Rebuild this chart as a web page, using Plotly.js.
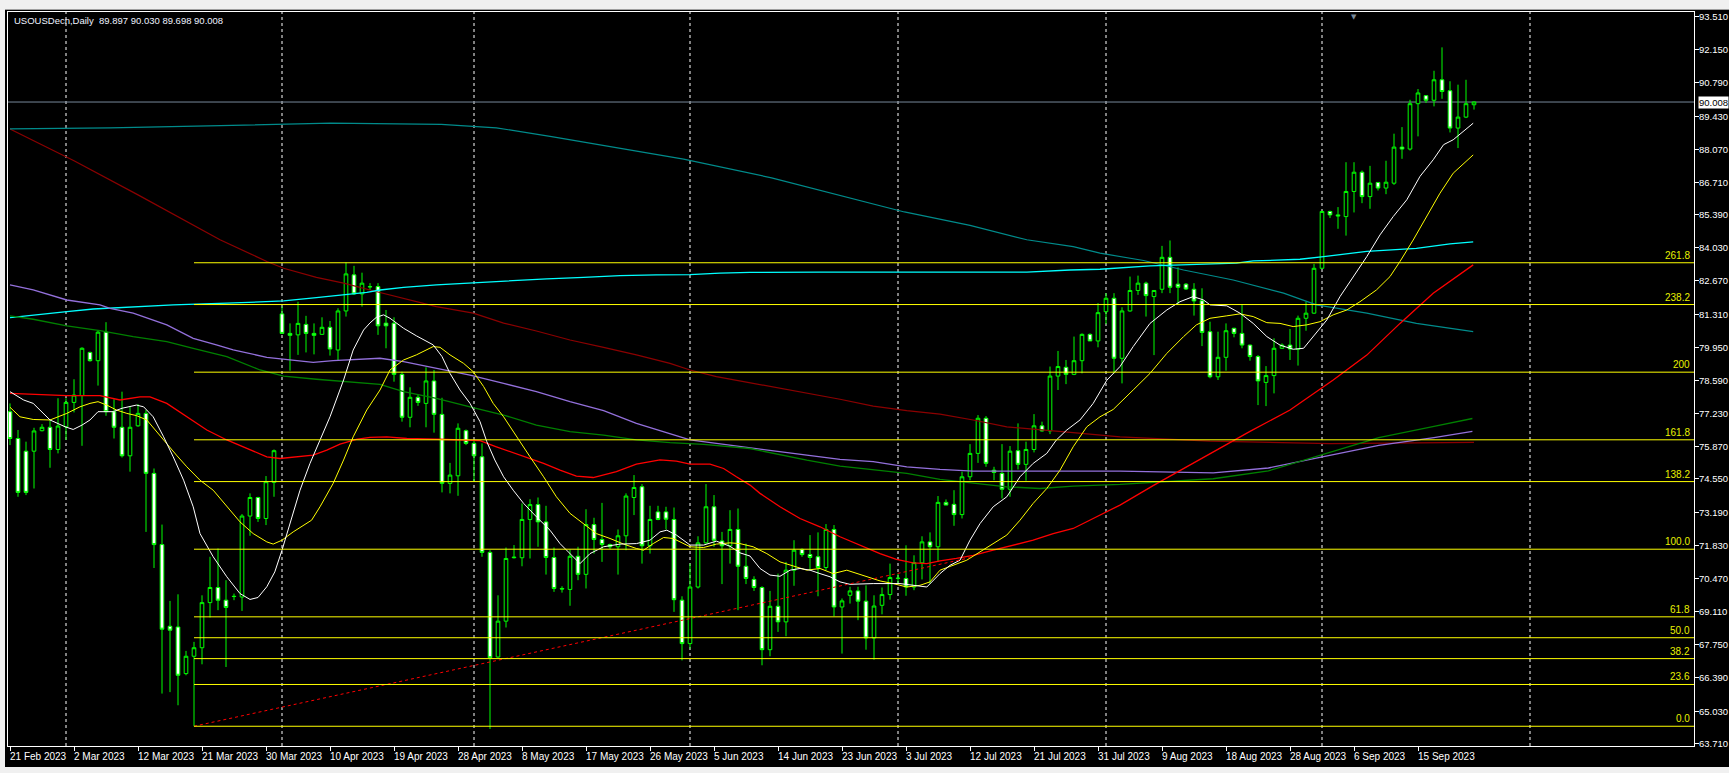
<!DOCTYPE html>
<html><head><meta charset="utf-8">
<script src="https://cdn.plot.ly/plotly-3.0.1.min.js"></script>
<style>html,body{margin:0;padding:0;background:#000;overflow:hidden}#chart{width:1729px;height:773px}</style>
</head><body><div id="chart"></div>
<script>
// ---- Symbol / header ----
const symbolTitle = 'USOUSDecn,Daily  89.897 90.030 89.698 90.008';

// ---- Daily OHLC (bar index 0 = 21 Feb 2023) ----
const openP = [77.31,76.21,75.69,75.69,76.53,76.67,75.76,76.69,77.69,77.97,79.74,79.40,80.57,77.31,76.67,75.50,76.73,77.24,74.78,71.86,68.51,68.48,66.57,67.28,67.63,69.48,70.10,69.58,69.74,69.71,73.03,73.79,72.93,74.41,81.32,80.52,80.46,80.89,80.52,80.48,80.77,79.84,81.44,82.92,82.14,82.44,82.44,80.94,80.94,78.84,77.08,77.90,77.65,78.57,77.20,74.37,74.68,76.53,76.01,75.46,71.54,67.25,68.72,71.32,71.32,72.89,73.50,72.79,71.33,70.06,70.02,71.38,70.64,72.68,72.07,71.86,71.77,72.22,73.79,74.23,71.81,73.20,73.20,72.89,69.58,67.80,70.12,71.93,73.41,72.01,71.81,72.48,70.97,70.43,70.10,67.55,69.33,68.69,70.81,71.66,71.45,71.36,70.92,72.48,69.30,69.78,69.96,69.54,68.03,69.37,69.81,70.47,70.47,70.12,71.11,71.97,71.77,73.59,73.51,73.09,74.64,75.60,77.04,74.91,74.78,74.13,75.71,75.15,75.76,76.73,76.52,78.77,79.13,78.84,79.40,80.48,80.21,81.41,81.96,79.50,81.44,82.28,82.58,82.03,82.33,83.64,82.54,82.54,82.33,81.86,80.59,78.74,79.54,80.73,80.52,80.04,79.57,78.51,78.79,79.91,80.04,79.87,81.14,81.35,83.19,85.52,85.38,85.31,86.34,87.13,86.13,86.71,86.48,86.68,88.16,88.08,89.94,90.27,90.08,90.92,90.47,88.94,89.39,89.897];
const highP = [77.65,76.56,76.08,76.65,76.80,76.99,77.86,77.86,78.64,79.95,79.77,80.66,80.98,77.82,78.13,77.51,77.62,77.38,74.98,72.68,69.55,69.82,67.50,67.87,69.78,71.36,71.70,70.40,69.85,73.11,73.96,73.82,74.67,75.76,81.62,80.93,81.82,81.24,80.93,81.18,81.03,81.55,83.43,83.29,83.01,82.58,82.58,81.48,81.18,78.95,78.31,77.99,79.13,79.02,77.88,75.21,76.83,76.58,76.15,76.01,71.63,69.78,71.74,71.84,73.55,73.72,73.79,73.45,71.74,70.15,71.66,71.77,73.31,72.96,73.57,71.90,72.48,73.96,74.71,74.34,73.45,73.45,73.41,73.38,69.74,71.08,72.20,74.34,73.89,72.38,73.27,73.34,71.90,70.56,70.15,69.96,70.67,71.15,72.04,71.70,72.25,72.36,72.70,72.66,69.65,70.13,70.13,70.19,69.78,70.10,71.08,70.67,71.83,71.42,72.20,72.36,73.85,73.71,74.09,74.85,75.98,77.17,77.13,75.05,75.98,75.90,76.83,76.08,77.21,76.90,79.16,79.80,79.43,80.39,80.52,80.52,81.76,82.17,82.17,81.59,82.85,82.89,82.64,82.30,84.11,84.33,83.23,82.58,82.58,82.37,81.00,80.59,80.93,80.75,81.69,80.06,79.63,79.18,80.32,80.11,80.70,81.25,81.82,83.37,85.55,85.55,85.70,87.54,87.54,87.20,87.39,86.72,87.60,88.71,88.98,90.10,90.54,90.29,91.29,92.25,90.86,90.72,90.92,90.030];
const lowP = [75.94,73.82,73.89,74.16,76.50,75.01,75.60,76.15,77.28,75.91,79.36,78.38,77.14,76.21,75.43,74.85,76.69,72.38,70.90,65.75,65.81,65.27,66.50,64.41,66.95,68.87,69.17,66.84,69.58,69.14,72.22,72.79,72.66,73.82,80.50,78.99,79.64,79.74,79.66,80.46,79.61,79.40,81.21,82.10,81.62,82.30,80.46,79.91,78.54,76.90,76.67,77.55,76.67,76.45,74.00,73.96,73.86,75.94,74.44,71.36,64.30,67.22,68.46,71.29,70.97,71.29,71.77,70.63,69.92,69.89,69.35,70.40,70.06,71.49,71.15,71.67,70.63,71.63,73.07,71.08,71.49,72.86,72.48,69.10,67.11,67.59,70.06,71.90,71.77,70.24,71.08,69.17,70.24,69.96,66.91,67.28,68.28,68.10,70.17,71.36,70.81,69.74,70.81,68.92,67.39,69.44,68.76,67.55,67.14,69.00,69.60,70.26,69.76,69.99,70.43,70.26,71.15,73.48,72.63,72.93,74.50,75.21,75.05,74.50,73.75,73.82,74.94,74.48,75.64,76.49,76.39,78.20,78.44,78.81,78.88,80.21,79.95,80.90,78.88,78.47,81.41,82.10,81.21,79.63,82.17,82.17,81.73,82.30,81.25,80.00,78.68,78.61,78.99,80.36,79.91,79.40,77.58,77.54,78.06,79.88,79.43,79.20,80.63,81.32,83.17,85.25,84.81,84.53,85.48,85.86,85.63,86.38,86.23,86.61,87.68,88.02,88.60,89.97,89.83,90.14,88.76,88.12,89.35,89.698];
const closeP = [76.21,74.00,74.00,76.52,76.67,75.76,76.72,77.69,77.99,79.91,79.40,80.57,77.31,76.67,75.50,76.67,77.24,74.78,71.86,68.39,68.35,66.50,67.28,67.63,69.48,70.10,69.58,69.28,69.73,73.03,73.79,72.93,74.44,75.71,80.52,80.44,80.93,80.52,80.44,80.77,79.88,81.44,82.96,82.14,82.58,82.43,80.83,80.83,78.84,77.08,77.90,77.69,78.57,77.20,74.37,74.71,76.63,76.01,75.50,71.54,67.22,68.72,71.29,71.34,72.89,73.50,72.79,71.33,70.06,70.04,71.38,70.64,72.68,72.07,71.86,71.77,72.22,73.85,74.20,71.81,72.89,72.89,72.90,69.60,67.80,70.12,71.93,73.41,72.04,71.81,72.48,70.97,70.47,70.10,67.55,69.33,68.69,70.81,71.63,71.45,71.33,70.92,72.48,69.30,69.55,69.96,69.54,68.03,69.34,69.81,70.51,70.48,70.12,71.12,71.97,71.77,73.59,73.48,73.09,74.64,75.60,77.04,75.19,74.82,74.13,75.69,75.15,75.76,76.73,76.52,78.77,79.16,78.84,79.40,80.48,80.21,81.37,81.96,79.50,81.44,82.28,82.58,82.07,82.28,83.64,82.41,82.41,82.34,81.85,80.56,78.74,79.54,80.63,80.52,80.04,79.57,78.57,78.79,79.91,80.04,79.88,81.14,81.35,83.19,85.52,85.38,85.34,86.34,87.13,86.13,86.68,86.48,86.72,88.16,88.08,89.94,90.38,90.08,90.92,90.44,88.94,89.39,89.94,90.008];

// ---- X-axis date labels (one every 8 bars) ----
const dateLabels = ['21 Feb 2023','2 Mar 2023','12 Mar 2023','21 Mar 2023','30 Mar 2023','10 Apr 2023','19 Apr 2023','28 Apr 2023','8 May 2023','17 May 2023','26 May 2023','5 Jun 2023','14 Jun 2023','23 Jun 2023','3 Jul 2023','12 Jul 2023','21 Jul 2023','31 Jul 2023','9 Aug 2023','18 Aug 2023','28 Aug 2023','6 Sep 2023','15 Sep 2023'];
const dateLabelIdx = [0,8,16,24,32,40,48,56,64,72,80,88,96,104,112,120,128,136,144,152,160,168,176];
// first bar of each month (vertical grid)
const monthStartIdx = [7,34,58,85,111,137,164,190];

// ---- Price axis labels ----
const priceTicks = [93.510,92.150,90.790,89.430,88.070,86.710,85.390,84.030,82.670,81.310,79.950,78.590,77.230,75.870,74.550,73.190,71.830,70.470,69.110,67.750,66.390,65.030,63.710];

// ---- Fibonacci retracement/extension ----
const fibLow = 64.41, fibHigh = 71.67, fibStartIdx = 23;
const fibLevels = [0.0,23.6,38.2,50.0,61.8,100.0,138.2,161.8,200,238.2,261.8];
const fibLabels = ['0.0','23.6','38.2','50.0','61.8','100.0','138.2','161.8','200','238.2','261.8'];

// ---- Trend line (red dotted) ----
const trendX = [23,120];
const trendY = [64.41,71.32];

// ---- Moving averages ----
const maWhiteX = [0,1.7,2.9,5,6.9,7.9,9,10,11,12.9,14,15.8,16.7,17.9,19.2,20.4,21.7,22.9,23.75,25.4,27.1,28.75,30,31,32.1,33.1,34,35,36.25,37.5,38.75,40,41.7,42.9,44.2,45,45.8,46.7,47.5,49.2,50.8,52.9,54,55,56.25,57.5,58.75,59.6,60.6,61.7,62.9,64.2,65.8,67.5,68.75,70,71.25,72.5,74.2,76.25,78.3,80,81.25,82.1,83.3,85,86.7,88.3,90,91.25,92.5,93.75,95,96.25,97.5,98.75,100,101.25,102.5,103.75,105,107.9,111.25,114.6,116.25,117.5,118.75,120,121.25,122.9,124.6,126.25,127.9,129.6,130.8,132.1,133.75,135.4,137.1,138.75,140.4,142.5,144.6,146.25,147.9,149.2,150,152.1,153.75,155.4,157.1,158.75,160.4,161.7,162.9,164.6,166.25,167.9,169.6,171.25,172.9,174.6,176.25,177.9,179.2,180.4,181.7,182.9];
const maWhiteY = [78.13,77.79,77.65,76.97,76.69,76.58,76.76,76.97,77.31,77.31,77.45,77.58,77.51,77.10,76.28,75.46,74.50,73.41,72.31,71.36,70.54,69.85,69.61,69.69,70.13,70.74,71.63,72.72,74.09,75.19,76.15,77.10,78.61,79.84,80.66,80.95,81.18,81.28,81.14,80.73,80.42,80.05,79.57,78.88,78.20,77.65,76.90,76.08,75.33,74.64,74.09,73.55,73.00,72.45,71.90,71.49,71.08,71.49,71.77,71.88,71.90,72.04,72.38,72.45,72.25,71.84,71.84,72.00,71.79,71.52,71.39,70.88,70.61,70.56,70.81,70.88,70.81,70.67,70.54,70.33,70.23,70.26,70.26,70.12,70.67,71.01,71.22,72.04,72.72,73.41,73.82,74.64,75.19,75.60,76.15,76.56,76.97,77.65,78.60,79.16,79.98,80.93,81.48,81.82,82.03,81.89,81.69,81.65,81.35,80.93,80.39,80.04,79.87,79.91,80.39,81.07,82.03,82.85,83.67,84.56,85.31,86.00,86.96,87.64,88.26,88.46,88.80,89.14];

const maYellowX = [0,1.25,2.9,5,7.1,8.75,10,11,12.1,13.3,14.6,15.8,17.1,18.3,19.6,20.8,22.1,23.75,25.4,26.25,27.1,28.75,30.4,32.1,32.9,34,35.4,37.7,38.75,40.4,41.7,42.9,44.6,46.25,47.5,49.2,50.8,52.9,53.75,55,56.7,57.9,59.2,60.4,61.7,63.3,65,66.7,68.3,70,71.7,73.3,75,76.7,78.3,79.2,80.4,81.7,82.9,85,86.7,88.3,90,91.25,92.9,94.6,96.25,97.9,99.6,101.25,102.9,104.6,107.1,108.75,110.4,112.1,113.75,115,116.25,117.9,119.6,121.25,122.9,124.6,126.25,127.9,129.6,131.25,132.9,134.6,136.25,137.9,140.4,142.5,144.6,146.7,148.3,150,152.1,153.75,155.4,157.1,158.75,160.4,162.1,163.75,165.4,167.1,168.75,170.8,172.5,173.75,175.4,177.1,178.75,180.4,182.9];
const maYellowY = [77.49,77.10,76.99,76.97,77.24,77.51,77.65,77.72,77.58,77.38,77.24,77.15,76.97,76.49,76.01,75.53,75.05,74.50,74.09,73.75,73.41,72.79,72.31,71.97,71.88,72.04,72.38,72.86,73.41,74.37,75.33,76.28,77.38,78.20,79.02,79.43,79.64,79.98,79.95,79.64,79.29,78.95,78.34,77.65,77.10,76.28,75.46,74.64,73.82,73.14,72.72,72.31,72.11,71.88,71.70,71.63,71.90,72.15,72.11,71.77,71.74,71.88,71.93,71.90,71.77,71.49,71.15,70.97,70.81,70.88,70.67,70.81,70.54,70.37,70.26,70.12,70.19,70.33,70.81,71.01,71.22,71.56,71.90,72.25,72.86,73.55,74.16,74.91,75.87,76.69,77.10,77.40,78.20,78.88,79.70,80.39,80.87,81.14,81.24,81.32,81.21,80.96,80.93,80.80,80.87,81.00,81.28,81.48,81.82,82.30,82.85,83.47,84.35,85.31,86.27,87.09,87.84];

const maRedX = [0,3.3,7.1,11.25,13.75,16.25,17.5,19.6,22.1,24.6,27.1,29.6,32.1,33.75,36.25,37.9,39.6,41.25,43.3,45,47.1,49.6,54.6,58.75,60.8,63.75,66.7,68.75,70.8,72.9,75.8,78.3,81.25,83.3,85,87.5,89.2,90.8,92.5,93.75,96.25,98.75,101.25,103.75,106.25,108.75,110.8,112.9,114.6,116.25,118.3,120.4,122.9,125.4,127.9,130.4,132.9,135.4,137.1,138.75,143,150,155,160,165.4,169.6,173.75,177.9,182.9];
const maRedY = [78.06,78.03,77.97,77.97,77.79,77.92,77.92,77.65,77.10,76.56,76.15,75.80,75.46,75.39,75.49,75.53,75.73,75.98,76.17,76.26,76.28,76.21,76.17,76.12,75.87,75.53,75.19,74.91,74.67,74.61,74.85,75.16,75.33,75.28,75.16,75.16,74.98,74.64,74.30,73.96,73.41,72.93,72.59,72.18,71.83,71.49,71.25,71.11,71.08,71.19,71.29,71.42,71.63,71.83,72.04,72.31,72.52,72.93,73.20,73.48,74.30,75.60,76.50,77.38,78.61,79.63,80.93,82.17,83.33];

const maMaroonX = [0,8,16,24,26.25,32.1,34.2,38.3,41.7,45,49.2,53.3,57.9,61.7,65.8,70,74.2,78.3,82.5,85,88.3,92.5,95.4,99.6,103.75,107.9,112.1,116.25,120.4,124.6,128.75,132.9,138.75,150,165,183];
const maMaroonY = [88.90,87.60,86.20,84.75,84.36,83.47,83.19,82.82,82.58,82.30,81.96,81.62,81.35,80.94,80.62,80.25,79.95,79.64,79.29,79.02,78.75,78.50,78.34,78.06,77.82,77.54,77.35,77.21,76.97,76.69,76.56,76.45,76.28,76.10,76.00,76.05];

const maCyanX = [0,2.9,7.1,10.4,15.4,20.4,27.1,30.4,34.2,38.3,41.7,44.6,46.25,49.2,53.3,57.9,62.5,67.1,71.7,76.25,80.8,85,88.75,92.5,101.25,127.1,132.5,136.25,142.5,153.3,155.4,161.25,164.2,169.6,175.8,180,182.9];
const maCyanY = [81.17,81.28,81.41,81.52,81.62,81.69,81.76,81.80,81.85,81.99,82.10,82.20,82.30,82.41,82.51,82.60,82.69,82.76,82.82,82.89,82.92,82.93,82.99,83.02,83.03,83.03,83.12,83.15,83.29,83.40,83.49,83.56,83.67,83.88,84.01,84.19,84.27];

const maTealX = [0,12.5,26.3,40.1,53.9,60.8,67.7,76,84.2,95.2,103.5,111.8,120,127.1,132.9,136.25,141.7,146.7,152.9,159.2,163.3,169.6,175.8,182.9];
const maTealY = [88.91,88.95,89.04,89.14,89.09,88.95,88.59,88.13,87.67,86.90,86.20,85.50,84.95,84.36,84.08,83.81,83.51,83.12,82.71,82.17,81.69,81.35,80.93,80.59];

const maPurpleX = [0,2.9,7.1,11.25,12.5,15.4,19.6,22.9,25.8,27.9,32.1,34.2,37.9,40.4,44.6,46.25,49.2,53.3,57.5,61.7,65.8,70,74.2,78.3,82.5,85,88.3,92.5,95.4,99.6,103.75,107.9,112.1,116.25,120.4,138.75,150.4,157.3,164.2,171.1,178,182.8];
const maPurpleY = [82.51,82.30,81.89,81.69,81.55,81.35,80.87,80.32,80.05,79.84,79.54,79.46,79.33,79.40,79.47,79.50,79.36,79.09,78.81,78.47,78.13,77.72,77.35,76.83,76.42,76.15,76.01,75.84,75.71,75.53,75.35,75.26,75.05,74.94,74.87,74.87,74.80,75.00,75.47,75.93,76.25,76.50];

const maGreenX = [0,2.9,7.1,11.25,15.4,19.6,22.9,27.1,31.25,34.2,38.3,42.5,46.25,49.2,53.3,57.5,61.7,65.8,70,74.2,78.3,82.5,86.7,92.5,95.4,99.6,103.75,107.9,112.1,116.25,120.4,124.6,128.75,132.9,138.75,150.4,157.3,164.2,171.1,178,182.8];
const maGreenY = [81.24,81.10,80.83,80.63,80.39,80.18,79.91,79.57,79.02,78.77,78.64,78.54,78.43,78.13,77.86,77.51,77.17,76.76,76.49,76.35,76.15,76.04,75.97,75.80,75.60,75.32,75.08,74.94,74.78,74.53,74.37,74.23,74.16,74.26,74.33,74.56,74.88,75.56,76.25,76.71,77.03];

// ================= build =================
const W = 1729, H = 773;
const M = {l: 8, r: 35, t: 12, b: 27};
const xRange = [-0.25, 210.5];
const yRange = [63.60, 93.70];
const barIdx = openP.map((_, k) => k);
const lastClose = closeP[closeP.length - 1];
const pxX = px => (px - M.l) / (W - M.l - M.r);          // pixel -> paper x
const pxY = py => (H - M.b - py) / (H - M.t - M.b);      // pixel -> paper y

const lineTrace = (x, y, color, width) => ({type: 'scatter', mode: 'lines', x, y, hoverinfo: 'skip',
  line: {color, width, shape: 'linear'}});

const traces = [
  {type: 'candlestick', x: barIdx, open: openP, high: highP, low: lowP, close: closeP,
   whiskerwidth: 0, hoverinfo: 'skip',
   increasing: {line: {color: '#00ff00', width: 1}, fillcolor: '#000000'},
   decreasing: {line: {color: '#00ff00', width: 1}, fillcolor: '#ffffff'}},
  lineTrace(maMaroonX, maMaroonY, '#8b0000', 1.2),
  lineTrace(maTealX, maTealY, '#008b8b', 1.2),
  lineTrace(maCyanX, maCyanY, '#00ffff', 1.3),
  lineTrace(maPurpleX, maPurpleY, '#9370db', 1.3),
  lineTrace(maGreenX, maGreenY, '#008000', 1.3),
  lineTrace(maRedX, maRedY, '#ff0000', 1.3),
  lineTrace(maYellowX, maYellowY, '#ffff00', 1),
  lineTrace(maWhiteX, maWhiteY, '#ffffff', 1),
  {type: 'scatter', mode: 'lines', x: trendX, y: trendY, hoverinfo: 'skip',
   line: {color: '#ff0000', width: 1, dash: '3px,3px'}}
];

const shapes = [];
monthStartIdx.forEach(m => shapes.push({type: 'line', xref: 'x', yref: 'paper', x0: m, x1: m, y0: 0, y1: 1,
  layer: 'below', line: {color: '#ffffff', width: 1, dash: '3px,3px'}}));
fibLevels.forEach(l => {
  const y = fibLow + (fibHigh - fibLow) * l / 100;
  shapes.push({type: 'line', xref: 'x', yref: 'y', x0: fibStartIdx, x1: xRange[1], y0: y, y1: y,
    layer: 'above', line: {color: '#ffff00', width: 1}});
});
shapes.push({type: 'line', xref: 'paper', yref: 'y', x0: 0, x1: 1, y0: lastClose, y1: lastClose,
  layer: 'below', line: {color: '#778899', width: 1}});
// window chrome (toolbar, tabs, left edge)
shapes.push({type: 'rect', xref: 'paper', yref: 'paper', x0: pxX(0), x1: pxX(W), y0: pxY(0), y1: pxY(9),
  fillcolor: '#f0f0f0', line: {width: 0}, layer: 'above'});
shapes.push({type: 'line', xref: 'paper', yref: 'paper', x0: pxX(0), x1: pxX(W), y0: pxY(9.5), y1: pxY(9.5),
  line: {color: '#a0a0a0', width: 1}, layer: 'above'});
shapes.push({type: 'rect', xref: 'paper', yref: 'paper', x0: pxX(0), x1: pxX(W), y0: pxY(767), y1: pxY(H),
  fillcolor: '#f0f0f0', line: {width: 0}, layer: 'above'});
shapes.push({type: 'rect', xref: 'paper', yref: 'paper', x0: pxX(0), x1: pxX(5), y0: pxY(9), y1: pxY(H),
  fillcolor: '#f0f0f0', line: {width: 0}, layer: 'above'});

const fontMain = 'Liberation Sans, Arial, sans-serif';
const annotations = [];
annotations.push({xref: 'paper', yref: 'paper', x: pxX(12), y: pxY(20), xanchor: 'left', yanchor: 'middle',
  text: symbolTitle, showarrow: false, font: {family: fontMain, size: 9.5, color: '#eef2ff'}});
fibLevels.forEach((l, k) => {
  const y = fibLow + (fibHigh - fibLow) * l / 100;
  annotations.push({xref: 'paper', yref: 'y', x: 1, y, xanchor: 'right', yanchor: 'bottom', xshift: -2, yshift: 0,
    text: fibLabels[k], showarrow: false, font: {family: fontMain, size: 10, color: '#e8f000'}});
});
dateLabels.forEach((t, k) => annotations.push({xref: 'x', yref: 'paper', x: dateLabelIdx[k], y: 0,
  xanchor: 'left', yanchor: 'top', xshift: -2, yshift: -3, text: t, showarrow: false,
  font: {family: fontMain, size: 10, color: '#ffffff'}}));
priceTicks.forEach(v => annotations.push({xref: 'paper', yref: 'y', x: 1, y: v, xanchor: 'left', yanchor: 'middle',
  xshift: 4, text: v.toFixed(3), showarrow: false, borderpad: 0,
  font: {family: fontMain, size: 9.5, color: '#ffffff'}}));
annotations.push({xref: 'paper', yref: 'y', x: 1, y: lastClose, xanchor: 'left', yanchor: 'middle', xshift: 4,
  text: lastClose.toFixed(3), showarrow: false, bgcolor: '#ffffff', borderpad: 0,
  font: {family: fontMain, size: 9.5, color: '#000000'}});
annotations.push({xref: 'paper', yref: 'paper', x: pxX(1354), y: 1, xanchor: 'center', yanchor: 'top', yshift: 1,
  text: '▼', showarrow: false, font: {family: 'DejaVu Sans', size: 7, color: '#7a8a9a'}});

const layout = {
  width: W, height: H, margin: {l: M.l, r: M.r, t: M.t, b: M.b, pad: 0},
  paper_bgcolor: '#000000', plot_bgcolor: '#000000', showlegend: false, boxgap: 0.35,
  xaxis: {range: xRange, showgrid: false, zeroline: false, showline: true, linecolor: '#ffffff', linewidth: 1,
    mirror: true, ticks: 'outside', tickvals: dateLabelIdx, ticklen: 4, tickcolor: '#ffffff',
    showticklabels: false, rangeslider: {visible: false}, fixedrange: true},
  yaxis: {side: 'right', range: yRange, showgrid: false, zeroline: false, showline: true, linecolor: '#ffffff',
    linewidth: 1, mirror: true, ticks: 'outside', ticklen: 4, tickcolor: '#ffffff',
    tickvals: priceTicks, showticklabels: false, fixedrange: true},
  shapes, annotations
};
Plotly.newPlot('chart', traces, layout, {staticPlot: true, displayModeBar: false});
</script></body></html>
